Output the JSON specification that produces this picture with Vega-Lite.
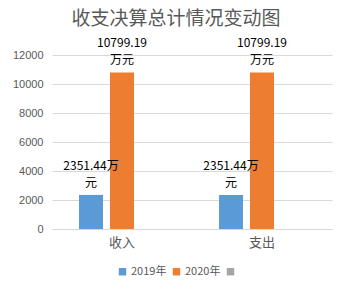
{
  "$schema": "https://vega.github.io/schema/vega-lite/v6.json",
  "width": 280,
  "height": 174,
  "autosize": {"type": "none"},
  "padding": {"left": 52, "top": 55, "right": 19, "bottom": 68},
  "background": "white",
  "title": {
    "text": "收支决算总计情况变动图",
    "anchor": "middle",
    "frame": "group",
    "dx": -16,
    "offset": 8,
    "fontSize": 19,
    "fontWeight": "normal",
    "color": "#595959",
    "font": "Noto Sans CJK SC"
  },
  "data": {
    "values": [
      {"cat": "收入", "series": "2019年", "value": 2351.44, "label": "2351.44万\n元"},
      {"cat": "收入", "series": "2020年", "value": 10799.19, "label": "10799.19\n万元"},
      {"cat": "支出", "series": "2019年", "value": 2351.44, "label": "2351.44万\n元"},
      {"cat": "支出", "series": "2020年", "value": 10799.19, "label": "10799.19\n万元"}
    ]
  },
  "encoding": {
    "x": {
      "field": "cat",
      "type": "nominal",
      "sort": ["收入", "支出"],
      "scale": {"paddingInner": 0.336, "paddingOuter": 0.168},
      "axis": {
        "title": null,
        "labelAngle": 0,
        "ticks": false,
        "domainColor": "#d9d9d9",
        "labelColor": "#595959",
        "labelFontSize": 13,
        "labelFont": "Noto Sans CJK SC",
        "labelPadding": 7
      }
    },
    "xOffset": {
      "field": "series",
      "type": "nominal",
      "scale": {"domain": ["2019年", "2020年", ""], "paddingInner": 0.226, "paddingOuter": 0.113}
    },
    "y": {
      "field": "value",
      "type": "quantitative",
      "scale": {"domain": [0, 12000]},
      "axis": {
        "title": null,
        "values": [0, 2000, 4000, 6000, 8000, 10000, 12000],
        "format": "d",
        "domain": false,
        "ticks": false,
        "gridColor": "#d9d9d9",
        "labelColor": "#595959",
        "labelFontSize": 11,
        "labelFont": "Liberation Sans",
        "labelPadding": 9
      }
    }
  },
  "layer": [
    {
      "mark": {"type": "bar"},
      "encoding": {
        "color": {
          "field": "series",
          "type": "nominal",
          "scale": {"domain": ["2019年", "2020年", ""], "range": ["#5b9bd5", "#ed7d31", "#a5a5a5"]},
          "legend": {
            "title": null,
            "orient": "none",
            "direction": "horizontal",
            "legendX": 65,
            "legendY": 211,
            "symbolType": "square",
            "symbolSize": 55,
            "symbolStrokeWidth": 0,
            "labelFontSize": 11,
            "labelColor": "#595959",
            "labelFont": "Noto Sans CJK SC",
            "columnPadding": 4,
            "labelOffset": 3
          }
        }
      }
    },
    {
      "mark": {
        "type": "text",
        "baseline": "bottom",
        "dy": -22,
        "lineBreak": "\n",
        "lineHeight": 17,
        "fontSize": 12,
        "font": "Noto Sans CJK SC",
        "color": "black"
      },
      "encoding": {
        "text": {"field": "label"}
      }
    }
  ],
  "config": {"view": {"stroke": null}}
}
